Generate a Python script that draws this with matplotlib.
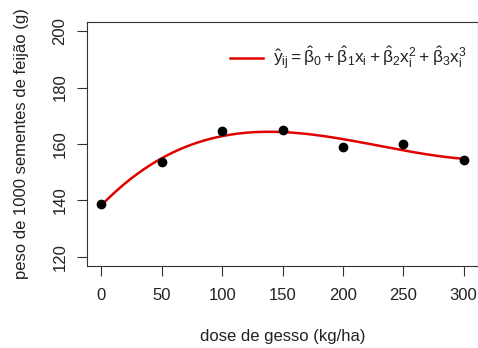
import matplotlib
matplotlib.use('Agg')
import matplotlib.pyplot as plt
import matplotlib.transforms as mtransforms
import numpy as np

# dose de gesso (kg/ha) and observed weight of 1000 seeds (g)
dose = [0, 50, 100, 150, 200, 250, 300]
peso = [138.7, 153.5, 164.5, 164.9, 158.8, 160.0, 154.2]

xticks = [0, 50, 100, 150, 200, 250, 300]
yticks = [120, 140, 160, 180, 200]

plt.rcParams['font.family'] = ['Liberation Sans', 'DejaVu Sans']
plt.rcParams['mathtext.fontset'] = 'custom'
plt.rcParams['mathtext.rm'] = 'Liberation Sans'
plt.rcParams['mathtext.it'] = 'Liberation Sans'
plt.rcParams['mathtext.bf'] = 'Liberation Sans:bold'

W, H = 478, 348
fig = plt.figure(figsize=(W / 100, H / 100), dpi=100)
ax = fig.add_axes([87 / W, 1 - 266 / H, 391 / W, 244 / H])

txt = '#222222'

# cubic regression fitted to the observations
coef = np.polyfit(dose, peso, 3)
xs = np.linspace(0, 300, 301)
ax.plot(xs, np.polyval(coef, xs), color='#e00000', lw=1.8,
        label=r'$\hat{y}_{ij} = \hat{\beta}_0 + \hat{\beta}_1 x_i + '
              r'\hat{\beta}_2 x_i^2 + \hat{\beta}_3 x_i^3$')
ax.plot(dose, peso, 'o', color='black', ms=6)

ax.set_xlim(-12, 312)
ax.set_ylim(116.8, 203.2)
ax.set_xticks(xticks)
ax.set_yticks(yticks)
ax.set_yticklabels([str(v) for v in yticks], rotation=90, va='center')
ax.tick_params(direction='out', length=7, width=0.8, labelsize=12,
               colors='#333333', labelcolor=txt)
ax.tick_params(axis='x', pad=9)
ax.tick_params(axis='y', pad=7)
for s in ax.spines.values():
    s.set_linewidth(0.8)
    s.set_color('#333333')

ax.set_xlabel('dose de gesso (kg/ha)', fontsize=12, color=txt)
ax.set_ylabel('peso de 1000 sementes de feijão (g)', fontsize=12, color=txt)
ax.xaxis.set_label_coords(0.5, 1 - 329 / H,
                          transform=mtransforms.blended_transform_factory(
                              ax.transAxes, fig.transFigure))
ax.yaxis.set_label_coords(29 / W, 0.5,
                          transform=mtransforms.blended_transform_factory(
                              fig.transFigure, ax.transAxes))

leg = ax.legend(loc='upper right', frameon=False, fontsize=12.5,
                handlelength=1.9, handletextpad=0.55,
                bbox_to_anchor=(1.012, 0.97))
for t in leg.get_texts():
    t.set_color(txt)

fig.savefig('out.png', dpi=100)
